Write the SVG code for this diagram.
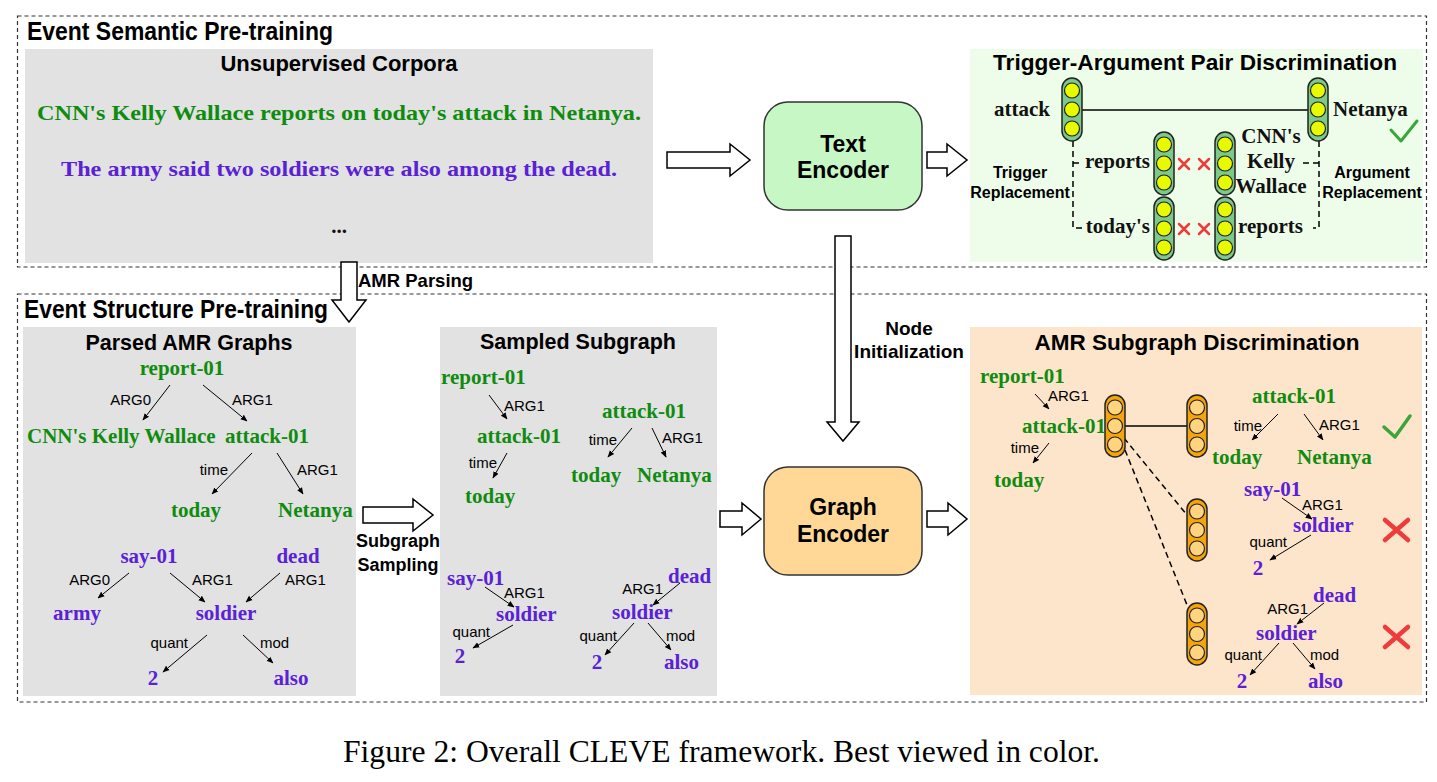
<svg xmlns="http://www.w3.org/2000/svg" xmlns:xlink="http://www.w3.org/1999/xlink" width="1437" height="782" viewBox="0 0 1437 782">
<style>
.dbox{fill:none;stroke:#333;stroke-width:1.2;stroke-dasharray:4 3}
.gray{fill:#E2E2E2}
.h{font-family:"Liberation Sans",Arial,sans-serif;font-weight:bold;fill:#000}
.t22{font-size:22px}
.amr{font-family:"Liberation Serif","Times New Roman",serif;font-weight:bold;font-size:21px}
.g{fill:#0f8c0f}
.p{fill:#5a22d6}
.k{fill:#111}
.lbl{font-family:"Liberation Sans",Arial,sans-serif;font-size:15px;fill:#000}
.edge{stroke:#000;stroke-width:1;fill:none;marker-end:url(#ah)}
.blk{fill:#fff;stroke:#000;stroke-width:1.5;stroke-linejoin:miter}
.enc{stroke:#333;stroke-width:1.5}
.dash{fill:none;stroke:#000;stroke-width:1.5;stroke-dasharray:6 4}
.xr{stroke:#EE3B3B;stroke-linecap:round;fill:none}
.ck{stroke:#3BA53B;stroke-linecap:round;stroke-linejoin:round;fill:none}
</style>
<defs>
<marker id="ah" viewBox="0 0 10 10" refX="9" refY="5" markerWidth="7" markerHeight="7" orient="auto" markerUnits="userSpaceOnUse"><path d="M0,1 L10,5 L0,9 z" fill="#000"/></marker>
<g id="gvec"><rect x="0" y="0" width="20" height="63" rx="10" fill="#7CC98A" stroke="#222" stroke-width="1.5"/><circle cx="10" cy="12.5" r="7.5" fill="#E8FA00" stroke="#222" stroke-width="1.2"/><circle cx="10" cy="31.5" r="7.5" fill="#E8FA00" stroke="#222" stroke-width="1.2"/><circle cx="10" cy="50.5" r="7.5" fill="#E8FA00" stroke="#222" stroke-width="1.2"/></g>
<g id="ovec"><rect x="0" y="0" width="20" height="62" rx="10" fill="#F6A40C" stroke="#222" stroke-width="1.5"/><circle cx="10" cy="12.5" r="7.5" fill="#FFD47E" stroke="#222" stroke-width="1.2"/><circle cx="10" cy="31" r="7.5" fill="#FFD47E" stroke="#222" stroke-width="1.2"/><circle cx="10" cy="49.5" r="7.5" fill="#FFD47E" stroke="#222" stroke-width="1.2"/></g>
</defs>

<g id="frame-semantic">
<rect class="dbox" x="17.5" y="16" width="1409" height="251"/>
<text class="h" x="27" y="40" font-size="26" textLength="306" lengthAdjust="spacingAndGlyphs">Event Semantic Pre-training</text>
</g>
<g id="frame-structure">
<rect class="dbox" x="17.5" y="294" width="1409" height="408"/>
<text class="h" x="24" y="318" font-size="25" textLength="304" lengthAdjust="spacingAndGlyphs">Event Structure Pre-training</text>
</g>

<g id="unsupervised-corpora">
<rect class="gray" x="25" y="49" width="628" height="214"/>
<text class="h t22" x="339" y="71" text-anchor="middle">Unsupervised Corpora</text>
<text class="amr g" x="339" y="120" font-size="24.5" text-anchor="middle" textLength="604" lengthAdjust="spacingAndGlyphs">CNN's Kelly Wallace reports on today's attack in Netanya.</text>
<text class="amr p" x="339" y="176" font-size="24.5" text-anchor="middle" textLength="556" lengthAdjust="spacingAndGlyphs">The army said two soldiers were also among the dead.</text>
<text class="amr k" x="339" y="233" font-size="22" text-anchor="middle">...</text>
</g>

<g id="text-encoder">
<rect class="enc" x="764" y="102" width="158" height="108" rx="24" fill="#C8F7C6"/>
<text class="h" x="843" y="152" font-size="23" text-anchor="middle">Text</text>
<text class="h" x="843" y="178" font-size="23" text-anchor="middle">Encoder</text>
</g>

<g id="graph-encoder">
<rect class="enc" x="764" y="467" width="158" height="108" rx="24" fill="#FFD898"/>
<text class="h" x="843" y="515" font-size="23" text-anchor="middle">Graph</text>
<text class="h" x="843" y="542" font-size="23" text-anchor="middle">Encoder</text>
</g>

<g id="trigger-argument-pair-discrimination">
<rect x="970" y="49" width="453" height="213" fill="#EDFDEA"/>
<text class="h" x="1195" y="70" font-size="22.5" text-anchor="middle" textLength="404" lengthAdjust="spacingAndGlyphs">Trigger-Argument Pair Discrimination</text>
<line x1="1082" y1="110" x2="1308" y2="110" stroke="#000" stroke-width="1.5"/>
<path class="dash" d="M1073,141 V228 H1082 M1073,163 H1080"/>
<path class="dash" d="M1319,141 V228 H1313 M1319,163 H1302"/>
<use xlink:href="#gvec" x="1062" y="78"/>
<use xlink:href="#gvec" x="1308" y="78"/>
<use xlink:href="#gvec" x="1154" y="132"/>
<use xlink:href="#gvec" x="1215" y="132"/>
<use xlink:href="#gvec" x="1154" y="197"/>
<use xlink:href="#gvec" x="1215" y="197"/>
<g class="xr" stroke-width="2.5">
<path d="M1179,159 L1189,169 M1189,159 L1179,169"/>
<path d="M1199,159 L1209,169 M1209,159 L1199,169"/>
<path d="M1179,224 L1189,234 M1189,224 L1179,234"/>
<path d="M1199,224 L1209,234 M1209,224 L1199,234"/>
</g>
<path class="ck" stroke-width="3" d="M1391,130 L1401,141 L1417,121"/>
<g class="amr k" font-size="20.5">
<text x="1050" y="116" text-anchor="end">attack</text>
<text x="1333" y="116">Netanya</text>
<text x="1150" y="168" text-anchor="end">reports</text>
<text x="1150" y="233" text-anchor="end">today's</text>
<text x="1271" y="143" text-anchor="middle">CNN's</text>
<text x="1271" y="168" text-anchor="middle">Kelly</text>
<text x="1271" y="193" text-anchor="middle">Wallace</text>
<text x="1238" y="233">reports</text>
</g>
<g class="h" font-size="16" text-anchor="middle">
<text x="1020" y="178">Trigger</text>
<text x="1020" y="198">Replacement</text>
<text x="1372" y="178">Argument</text>
<text x="1372" y="198">Replacement</text>
</g>
</g>

<g id="parsed-amr-graphs">
<rect class="gray" x="23" y="327" width="333" height="369"/>
<text class="h" x="189" y="350" font-size="21.5" text-anchor="middle">Parsed AMR Graphs</text>
<g class="amr g">
<text x="182" y="375" text-anchor="middle">report-01</text>
<text x="27" y="443">CNN's Kelly Wallace</text>
<text x="225" y="443">attack-01</text>
<text x="196" y="517" text-anchor="middle">today</text>
<text x="278" y="517">Netanya</text>
</g>
<g class="amr p">
<text x="149" y="563" text-anchor="middle">say-01</text>
<text x="298" y="563" text-anchor="middle">dead</text>
<text x="77" y="620" text-anchor="middle">army</text>
<text x="226" y="620" text-anchor="middle">soldier</text>
<text x="153" y="685" text-anchor="middle">2</text>
<text x="291" y="685" text-anchor="middle">also</text>
</g>
<g class="lbl">
<text x="151" y="405" text-anchor="end">ARG0</text>
<text x="232" y="405">ARG1</text>
<text x="228" y="475" text-anchor="end">time</text>
<text x="297" y="475">ARG1</text>
<text x="110" y="585" text-anchor="end">ARG0</text>
<text x="192" y="585">ARG1</text>
<text x="285" y="585">ARG1</text>
<text x="188" y="648" text-anchor="end">quant</text>
<text x="260" y="648">mod</text>
</g>
</g>

<g id="sampled-subgraph">
<rect class="gray" x="440" y="327" width="277" height="369"/>
<text class="h" x="578" y="349" font-size="21.5" text-anchor="middle">Sampled Subgraph</text>
<g class="amr g">
<text x="441" y="384">report-01</text>
<text x="477" y="443">attack-01</text>
<text x="465" y="503">today</text>
<text x="602" y="418">attack-01</text>
<text x="571" y="482">today</text>
<text x="637" y="482">Netanya</text>
</g>
<g class="amr p">
<text x="447" y="585">say-01</text>
<text x="496" y="621">soldier</text>
<text x="460" y="663" text-anchor="middle">2</text>
<text x="668" y="583">dead</text>
<text x="612" y="619">soldier</text>
<text x="597" y="669" text-anchor="middle">2</text>
<text x="664" y="669">also</text>
</g>
<g class="lbl">
<text x="504" y="411">ARG1</text>
<text x="497" y="468" text-anchor="end">time</text>
<text x="617" y="445" text-anchor="end">time</text>
<text x="662" y="443">ARG1</text>
<text x="504" y="598">ARG1</text>
<text x="490" y="637" text-anchor="end">quant</text>
<text x="663" y="594" text-anchor="end">ARG1</text>
<text x="617" y="641" text-anchor="end">quant</text>
<text x="666" y="641">mod</text>
</g>
</g>

<g id="amr-subgraph-discrimination">
<rect x="970" y="327" width="452" height="368" fill="#FDE5CC"/>
<text class="h" x="1197" y="350" font-size="22.5" text-anchor="middle">AMR Subgraph Discrimination</text>
<line x1="1124" y1="426" x2="1187" y2="426" stroke="#000" stroke-width="1.5"/>
<path class="dash" d="M1124,438 L1187,515 M1125,450 L1187,605"/>
<use xlink:href="#ovec" x="1105" y="395"/>
<use xlink:href="#ovec" x="1187" y="395"/>
<use xlink:href="#ovec" x="1187" y="499"/>
<use xlink:href="#ovec" x="1187" y="603"/>
<g class="amr g">
<text x="980" y="383">report-01</text>
<text x="1022" y="433">attack-01</text>
<text x="994" y="487">today</text>
<text x="1252" y="403">attack-01</text>
<text x="1212" y="464">today</text>
<text x="1297" y="464">Netanya</text>
</g>
<g class="amr p">
<text x="1244" y="496">say-01</text>
<text x="1293" y="532">soldier</text>
<text x="1258" y="575" text-anchor="middle">2</text>
<text x="1313" y="602">dead</text>
<text x="1256" y="640">soldier</text>
<text x="1242" y="688" text-anchor="middle">2</text>
<text x="1308" y="688">also</text>
</g>
<g class="lbl">
<text x="1048" y="401">ARG1</text>
<text x="1039" y="453" text-anchor="end">time</text>
<text x="1262" y="431" text-anchor="end">time</text>
<text x="1319" y="430">ARG1</text>
<text x="1302" y="510">ARG1</text>
<text x="1287" y="547" text-anchor="end">quant</text>
<text x="1308" y="614" text-anchor="end">ARG1</text>
<text x="1262" y="660" text-anchor="end">quant</text>
<text x="1310" y="660">mod</text>
</g>
<path class="ck" stroke-width="3.5" d="M1384,427 L1395,437 L1410,416"/>
<path class="xr" stroke-width="4.5" d="M1385,520 L1408,540 M1408,520 L1385,540"/>
<path class="xr" stroke-width="4.5" d="M1385,627 L1408,647 M1408,627 L1385,647"/>
</g>

<g id="connectors">
<path class="edge" d="M170,385 L143,420"/>
<path class="edge" d="M203,385 L247,421"/>
<path class="edge" d="M252,453 L212,494"/>
<path class="edge" d="M277,453 L303,494"/>
<path class="edge" d="M129,573 L98,598"/>
<path class="edge" d="M170,573 L205,602"/>
<path class="edge" d="M280,573 L246,602"/>
<path class="edge" d="M207,635 L163,672"/>
<path class="edge" d="M243,635 L273,663"/>
<path class="edge" d="M489,395 L507,419"/>
<path class="edge" d="M507,453 L493,478"/>
<path class="edge" d="M632,428 L608,457"/>
<path class="edge" d="M652,428 L666,457"/>
<path class="edge" d="M485,587 L514,607"/>
<path class="edge" d="M513,625 L473,648"/>
<path class="edge" d="M680,583 L653,605"/>
<path class="edge" d="M634,623 L605,655"/>
<path class="edge" d="M648,623 L671,650"/>
<path class="edge" d="M1035,394 L1049,409"/>
<path class="edge" d="M1049,443 L1033,463"/>
<path class="edge" d="M1278,414 L1252,440"/>
<path class="edge" d="M1304,414 L1323,440"/>
<path class="edge" d="M1282,498 L1312,519"/>
<path class="edge" d="M1311,535 L1270,560"/>
<path class="edge" d="M1324,603 L1297,624"/>
<path class="edge" d="M1279,643 L1250,675"/>
<path class="edge" d="M1293,643 L1315,669"/>
<polygon class="blk" points="667,152 730,152 730,144 750,160 730,176 730,168 667,168"/>
<polygon class="blk" points="927,152 947,152 947,144 967,160 947,176 947,168 927,168"/>
<polygon class="blk" points="835,236 851,236 851,422 859,422 843,441 827,422 835,422"/>
<polygon class="blk" points="720,511 742,511 742,503 761,519 742,535 742,527 720,527"/>
<polygon class="blk" points="927,511 948,511 948,503 967,519 948,535 948,527 927,527"/>
<polygon class="blk" points="341,262 357,262 357,300 366,300 349,322 332,300 341,300"/>
<polygon class="blk" points="363,507 413,507 413,499 433,515 413,531 413,523 363,523"/>
<text class="h" x="358" y="287" font-size="18.5">AMR Parsing</text>
<text class="h" x="909" y="335" font-size="19" text-anchor="middle">Node</text>
<text class="h" x="909" y="358" font-size="19" text-anchor="middle">Initialization</text>
<text class="h" x="398" y="547" font-size="18" text-anchor="middle">Subgraph</text>
<text class="h" x="398" y="571" font-size="18" text-anchor="middle">Sampling</text>
</g>

<text id="caption" x="343" y="762" font-family="'Liberation Serif','Times New Roman',serif" font-size="31" fill="#000" textLength="757" lengthAdjust="spacingAndGlyphs">Figure 2: Overall CLEVE framework. Best viewed in color.</text>
</svg>
